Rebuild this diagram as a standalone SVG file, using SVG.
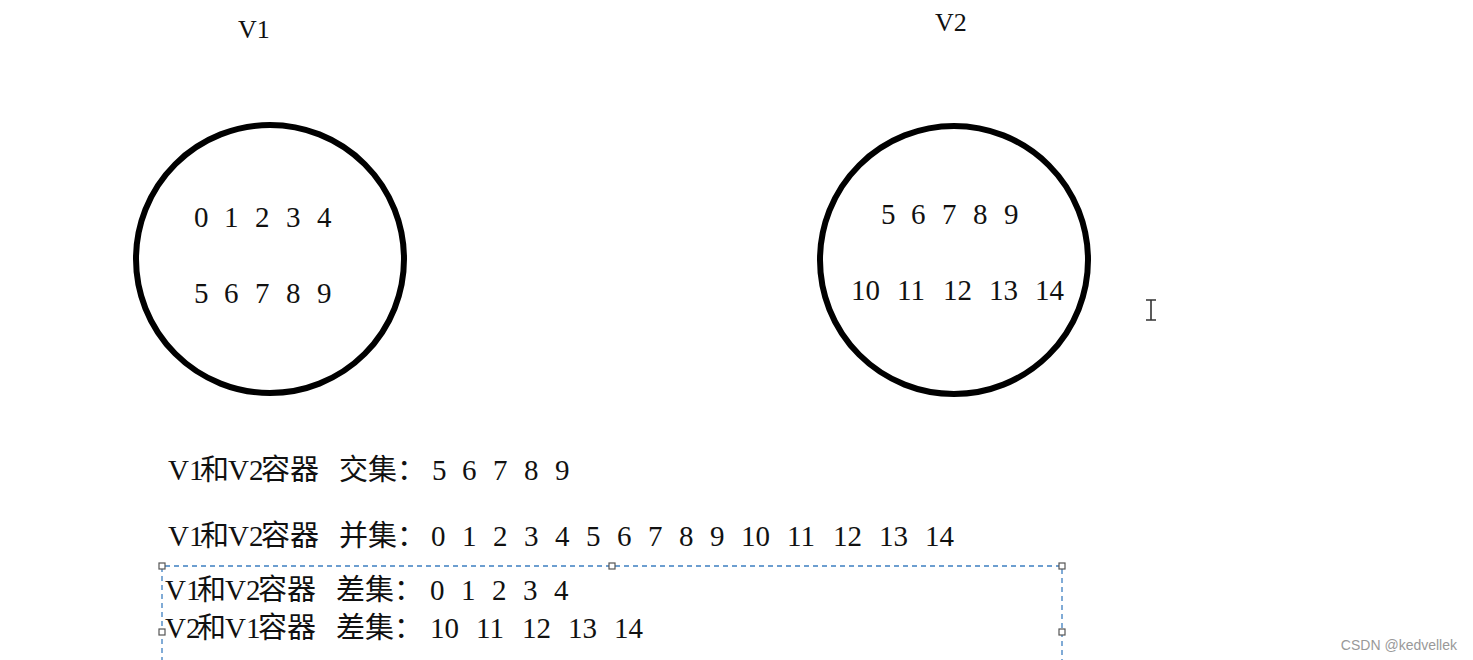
<svg xmlns="http://www.w3.org/2000/svg" width="1473" height="660" viewBox="0 0 1473 660">
<style>
.t{font-family:"Liberation Serif","Noto Sans CJK SC",serif;font-size:29px;fill:#111}
.c{font-family:"Noto Sans CJK SC","Liberation Serif",serif;font-size:29px;fill:#111}
.lbl{font-family:"Liberation Serif",serif;font-size:26px;fill:#111}
.ring{fill:none;stroke:#000;stroke-width:6}
.sel{fill:none;stroke:#3d7fc1;stroke-width:1.3;stroke-dasharray:5 4}
.h{fill:#fff;stroke:#555;stroke-width:1.2}
</style>
<rect width="1473" height="660" fill="#fff"/>
<g id="v1">
<text class="lbl" x="238" y="38">V1</text>
<circle class="ring" cx="270" cy="259" r="134"/>
<text class="t" y="227"><tspan x="194">0</tspan><tspan x="224">1</tspan><tspan x="255">2</tspan><tspan x="286">3</tspan><tspan x="317">4</tspan></text>
<text class="t" y="303"><tspan x="194">5</tspan><tspan x="224">6</tspan><tspan x="255">7</tspan><tspan x="286">8</tspan><tspan x="317">9</tspan></text>
</g>
<g id="v2">
<text class="lbl" x="935" y="31">V2</text>
<circle class="ring" cx="954" cy="260" r="134"/>
<text class="t" y="224"><tspan x="881">5</tspan><tspan x="911">6</tspan><tspan x="942">7</tspan><tspan x="973">8</tspan><tspan x="1004">9</tspan></text>
<text class="t" y="300"><tspan x="851">10</tspan><tspan x="897">11</tspan><tspan x="943">12</tspan><tspan x="989">13</tspan><tspan x="1035">14</tspan></text>
</g>
<g id="cursor" stroke="#333" stroke-width="1.6" fill="none">
<path d="M1151 300V320M1146 300H1156M1146 320H1156"/>
</g>
<g id="results">
<text class="t" y="480"><tspan x="168">V1</tspan><tspan class="c" x="200">和</tspan><tspan x="228">V2</tspan><tspan class="c" x="261">容器</tspan><tspan class="c" x="339">交集：</tspan><tspan x="432">5</tspan><tspan x="462">6</tspan><tspan x="493">7</tspan><tspan x="524">8</tspan><tspan x="555">9</tspan></text>
<text class="t" y="546"><tspan x="168">V1</tspan><tspan class="c" x="200">和</tspan><tspan x="228">V2</tspan><tspan class="c" x="261">容器</tspan><tspan class="c" x="339">并集：</tspan><tspan x="431">0</tspan><tspan x="462">1</tspan><tspan x="493">2</tspan><tspan x="524">3</tspan><tspan x="555">4</tspan><tspan x="586">5</tspan><tspan x="617">6</tspan><tspan x="648">7</tspan><tspan x="679">8</tspan><tspan x="710">9</tspan><tspan x="741">10</tspan><tspan x="787">11</tspan><tspan x="833">12</tspan><tspan x="879">13</tspan><tspan x="925">14</tspan></text>
<text class="t" y="600"><tspan x="165">V1</tspan><tspan class="c" x="197">和</tspan><tspan x="225">V2</tspan><tspan class="c" x="258">容器</tspan><tspan class="c" x="336">差集：</tspan><tspan x="430">0</tspan><tspan x="461">1</tspan><tspan x="492">2</tspan><tspan x="523">3</tspan><tspan x="554">4</tspan></text>
<text class="t" y="638"><tspan x="165">V2</tspan><tspan class="c" x="197">和</tspan><tspan x="225">V1</tspan><tspan class="c" x="258">容器</tspan><tspan class="c" x="336">差集：</tspan><tspan x="430">10</tspan><tspan x="476">11</tspan><tspan x="522">12</tspan><tspan x="568">13</tspan><tspan x="614">14</tspan></text>
</g>
<g id="selection">
<path class="sel" d="M162 662V566H1062V662"/>
<rect class="h" x="159" y="563" width="6" height="6"/>
<rect class="h" x="609" y="563" width="6" height="6"/>
<rect class="h" x="1059" y="563" width="6" height="6"/>
<rect class="h" x="159" y="629" width="6" height="6"/>
<rect class="h" x="1059" y="629" width="6" height="6"/>
</g>
<text x="1457" y="650" text-anchor="end" font-family="Liberation Sans,sans-serif" font-size="14" fill="#999">CSDN @kedvellek</text>
</svg>
